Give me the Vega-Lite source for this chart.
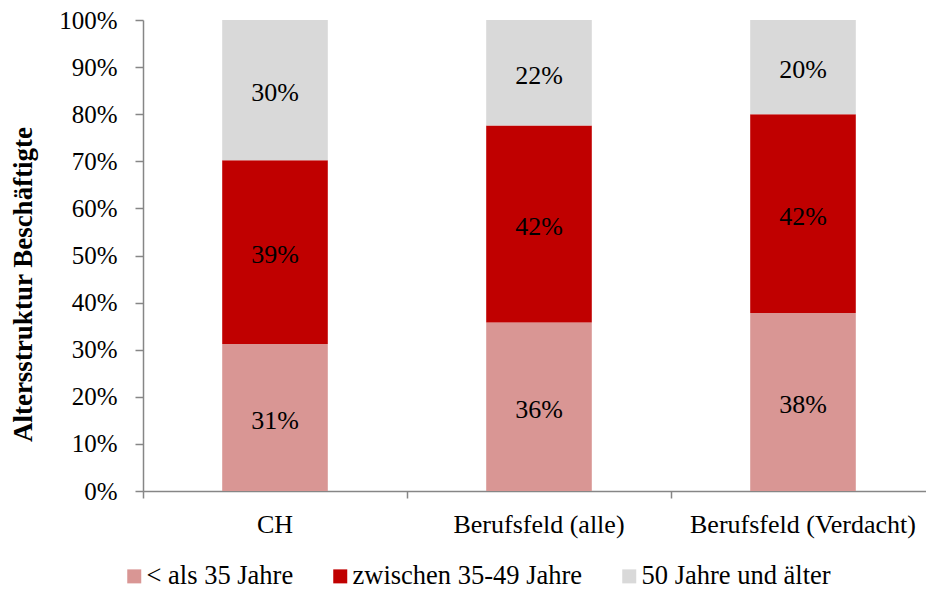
{
  "$schema": "https://vega.github.io/schema/vega-lite/v6.json",
  "width": 783,
  "height": 471,
  "autosize": {"type": "none"},
  "padding": {"left": 143, "top": 20, "right": 0, "bottom": 100},
  "background": "white",
  "config": {"view": {"stroke": null}, "font": "Liberation Serif"},
  "data": {
    "values": [
      {"cat": "CH", "age": "< als 35 Jahre", "order": 1, "share": 0.312},
      {"cat": "CH", "age": "zwischen 35-49 Jahre", "order": 2, "share": 0.390},
      {"cat": "CH", "age": "50 Jahre und älter", "order": 3, "share": 0.298},
      {"cat": "Berufsfeld (alle)", "age": "< als 35 Jahre", "order": 1, "share": 0.358},
      {"cat": "Berufsfeld (alle)", "age": "zwischen 35-49 Jahre", "order": 2, "share": 0.418},
      {"cat": "Berufsfeld (alle)", "age": "50 Jahre und älter", "order": 3, "share": 0.224},
      {"cat": "Berufsfeld (Verdacht)", "age": "< als 35 Jahre", "order": 1, "share": 0.378},
      {"cat": "Berufsfeld (Verdacht)", "age": "zwischen 35-49 Jahre", "order": 2, "share": 0.422},
      {"cat": "Berufsfeld (Verdacht)", "age": "50 Jahre und älter", "order": 3, "share": 0.200}
    ]
  },
  "transform": [
    {"stack": "share", "groupby": ["cat"], "sort": [{"field": "order", "order": "ascending"}], "as": ["y0", "y1"]}
  ],
  "layer": [
    {
      "mark": {"type": "bar", "width": {"band": 0.4}},
      "encoding": {
        "x": {
          "field": "cat",
          "type": "nominal",
          "sort": ["CH", "Berufsfeld (alle)", "Berufsfeld (Verdacht)"],
          "scale": {"range": [0, 792], "paddingInner": 0, "paddingOuter": 0},
          "axis": {
            "title": null,
            "bandPosition": 0,
            "domainColor": "#868686",
            "tickColor": "#868686",
            "domainWidth": 1.5,
            "tickWidth": 1.5,
            "tickSize": 7,
            "labelPadding": 13,
            "labelFontSize": 26,
            "labelFont": "Liberation Serif",
            "labelColor": "black",
            "labelAngle": 0,
            "labelLimit": 0
          }
        },
        "y": {
          "field": "y0",
          "type": "quantitative",
          "scale": {"domain": [0, 1]},
          "axis": {
            "title": "Altersstruktur Beschäftigte",
            "values": [0, 0.1, 0.2, 0.3, 0.4, 0.5, 0.6, 0.7, 0.8, 0.9, 1],
            "format": ".0%",
            "grid": false,
            "domainColor": "#868686",
            "tickColor": "#868686",
            "domainWidth": 1.5,
            "tickWidth": 1.5,
            "tickSize": 8,
            "labelPadding": 18,
            "labelFontSize": 25,
            "labelFont": "Liberation Serif",
            "labelColor": "black",
            "titleFont": "Liberation Serif",
            "titleFontSize": 27,
            "titleFontWeight": "bold",
            "titleColor": "black",
            "titleX": -112,
            "titleY": 264,
            "titleBaseline": "alphabetic",
            "titleAlign": "center",
            "titleAngle": 270
          }
        },
        "y2": {"field": "y1"},
        "color": {
          "field": "age",
          "type": "nominal",
          "scale": {
            "domain": ["< als 35 Jahre", "zwischen 35-49 Jahre", "50 Jahre und älter"],
            "range": ["#D99694", "#C00000", "#D9D9D9"]
          },
          "legend": {
            "orient": "none",
            "legendX": -22,
            "legendY": 543,
            "direction": "horizontal",
            "title": null,
            "symbolType": "square",
            "symbolSize": 196,
            "symbolStrokeWidth": 0,
            "labelFontSize": 26.5,
            "labelFont": "Liberation Serif",
            "labelColor": "black",
            "labelOffset": -1,
            "labelLimit": 0,
            "columnPadding": 33
          }
        }
      }
    },
    {
      "transform": [{"fold": ["y0", "y1"], "as": ["edge", "pos"]}],
      "mark": {"type": "text", "fontSize": 26, "font": "Liberation Serif", "color": "black", "baseline": "middle", "dy": 3},
      "encoding": {
        "x": {"field": "cat", "type": "nominal", "sort": ["CH", "Berufsfeld (alle)", "Berufsfeld (Verdacht)"]},
        "y": {"aggregate": "mean", "field": "pos", "type": "quantitative"},
        "detail": {"field": "age"},
        "text": {"field": "share", "type": "quantitative", "format": ".0%"}
      }
    }
  ]
}
